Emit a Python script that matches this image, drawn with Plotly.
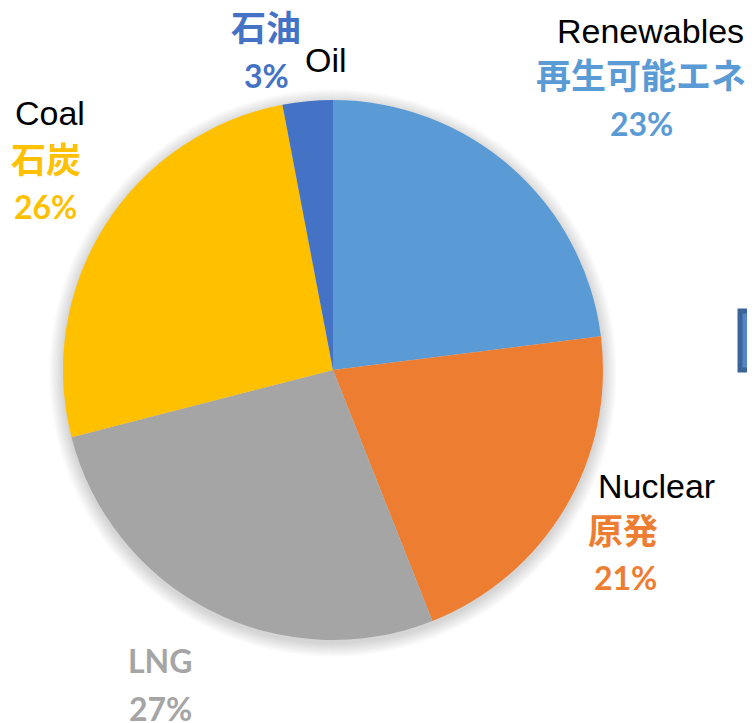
import plotly.graph_objects as go

# page body has an 8px margin, so the figure starts at (8, 8)
OFF = 8
W, H = 755 - OFF, 723 - OFF

# data
sources_en = ["Renewables", "Nuclear", "LNG", "Coal", "Oil"]
sources_ja = ["再生可能エネ", "原発", "", "石炭", "石油"]
shares = [23, 21, 27, 26, 3]
colors = ["#5B9BD5", "#ED7D31", "#A5A5A5", "#FFC000", "#4472C4"]

# pie placement in window pixels
cx, cy, r = 333, 370, 270


def px(x):
    return (x - OFF) / W


def py(y):
    return 1 - (y - OFF) / H


fig = go.Figure()

fig.add_trace(go.Pie(
    labels=sources_en,
    values=shares,
    sort=False,
    direction="clockwise",
    rotation=0,
    marker=dict(colors=colors, line=dict(width=0)),
    textinfo="none",
    hoverinfo="skip",
    showlegend=False,
    domain=dict(x=[px(cx - r), px(cx + r)], y=[py(cy + r), py(cy - r)]),
))

# soft shadow around the pie
shapes = []
for k in range(1, 15):
    rr = r + k
    shapes.append(dict(
        type="circle", xref="paper", yref="paper", layer="below",
        x0=px(cx - rr), x1=px(cx + rr), y0=py(cy + 3 + rr), y1=py(cy + 3 - rr),
        fillcolor="rgba(0,0,0,0.012)", line=dict(width=0),
    ))

# partly visible box at the right edge
shapes.append(dict(
    type="rect", xref="paper", yref="paper",
    x0=px(740), x1=px(790), y0=py(370), y1=py(311),
    fillcolor="#5585C5", line=dict(color="#3B6599", width=5),
))

EN = "Liberation Sans, Arial, sans-serif"
JA = "Noto Sans CJK JP"
PCT = "Lato, sans-serif"

# label positions (pixel centres): english, japanese, percent
label_pos = {
    "Renewables": ((650, 31), (641, 73), (641, 124)),
    "Nuclear": ((656, 486), (623, 528), (625, 577)),
    "LNG": (None, (160, 660), (160, 708)),
    "Coal": ((50, 113), (46, 157), (45, 206)),
    "Oil": ((326, 60), (266, 26), (266, 76)),
}

annotations = []
for name, ja, share, col in zip(sources_en, sources_ja, shares, colors):
    en_xy, ja_xy, pct_xy = label_pos[name]
    if en_xy is not None:
        annotations.append(dict(
            x=px(en_xy[0]), y=py(en_xy[1]), text=name, showarrow=False,
            xanchor="center", yanchor="middle",
            font=dict(family=EN, size=34, color="#000000"),
        ))
    if ja:
        annotations.append(dict(
            x=px(ja_xy[0]), y=py(ja_xy[1]), text=f"<b>{ja}</b>", showarrow=False,
            xanchor="center", yanchor="middle",
            font=dict(family=JA, size=35, color=col),
        ))
    else:
        annotations.append(dict(
            x=px(ja_xy[0]), y=py(ja_xy[1]), text=f"<b>{name}</b>", showarrow=False,
            xanchor="center", yanchor="middle",
            font=dict(family=PCT, size=32, color=col),
        ))
    annotations.append(dict(
        x=px(pct_xy[0]), y=py(pct_xy[1]), text=f"<b>{share}%</b>", showarrow=False,
        xanchor="center", yanchor="middle",
        font=dict(family=PCT, size=32, color=col),
    ))

fig.update_layout(
    width=W, height=H,
    margin=dict(l=0, r=0, t=0, b=0),
    paper_bgcolor="white",
    plot_bgcolor="white",
    shapes=shapes,
    annotations=annotations,
)

fig.write_html("out.html")
